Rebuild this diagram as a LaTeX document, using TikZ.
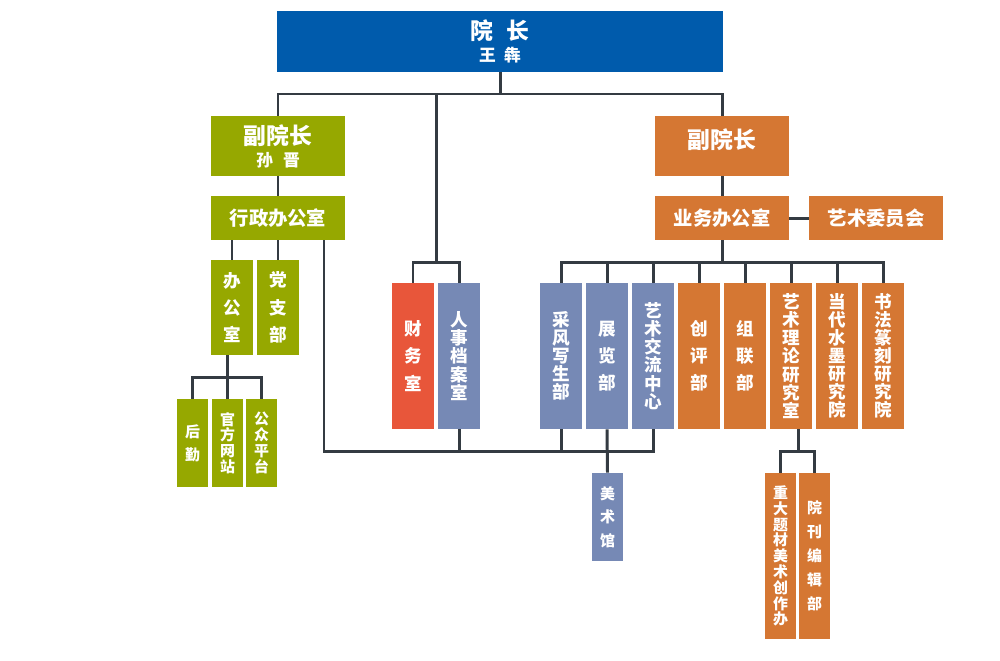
\documentclass[tikz,border=0pt]{standalone}
\usepackage{fontspec}
\setmainfont{Noto Sans CJK SC}
\usepackage{xcolor}
\usepackage{tikz}
\usetikzlibrary{positioning,calc}
\definecolor{deanblue}{HTML}{005BAC}
\definecolor{olive}{HTML}{96A800}
\definecolor{orange}{HTML}{D57733}
\definecolor{redc}{HTML}{E8563A}
\definecolor{slate}{HTML}{7689B5}
\definecolor{linec}{HTML}{343B42}

\begin{document}
\begin{tikzpicture}[
    x=0.02cm, y=-0.02cm,
    unit/.style={inner sep=0, text=white, align=center},
    hbox/.style={unit, minimum width=2.68cm, minimum height=0.88cm, font=\bfseries\fontsize{11}{13}\selectfont},
    vp/.style={unit, minimum width=2.68cm, minimum height=1.2cm, font=\bfseries\fontsize{9.5}{12.5}\selectfont},
    tall/.style={unit, minimum width=0.84cm, minimum height=2.92cm, font=\bfseries\fontsize{10}{#1}\selectfont},
    mid/.style={unit, minimum width=0.84cm, minimum height=1.9cm, font=\bfseries\fontsize{10}{#1}\selectfont},
    small/.style={unit, minimum width=0.62cm, minimum height=1.76cm, font=\bfseries\fontsize{8.5}{#1}\selectfont},
    conn/.style={draw=linec, line width=1.7pt},
]
    \useasboundingbox[fill=white] (0,0) rectangle (1000,660);

    % Dean
    \node[unit, fill=deanblue, minimum width=8.92cm, minimum height=1.22cm, font=\bfseries\fontsize{9.5}{12.5}\selectfont] (dean) at (500,41.5)
        {{\fontsize{13}{15}\selectfont 院\hspace{0.55em}长}\\王\hspace{0.5em}犇};

    % Vice deans and offices
    \node[vp, fill=olive] (vpL) at (278,146) {{\fontsize{13}{15}\selectfont 副院长}\\孙\hspace{0.6em}晋};
    \node[vp, fill=orange, font=\bfseries\fontsize{13}{15}\selectfont] (vpR) at (722,146) {\raisebox{0.28cm}{副院长}};
    \node[hbox, fill=olive] (xzb) at (278,218) {行政办公室};
    \node[hbox, fill=orange] (ywb) at (722,218) {业务办公室};
    \node[hbox, fill=orange] (wyh) at (876,218) {艺术委员会};

    % Admin branch
    \node[mid=15.5pt, fill=olive] (bgs) at (232,307.5) {办\\公\\室};
    \node[mid=15.5pt, fill=olive] (dzb) at (278,307.5) {党\\支\\部};
    \node[small=13pt, fill=olive] (hq) at (192.5,443) {后\\勤};
    \node[small=9pt, fill=olive] (gfwz) at (227.5,443) {官\\方\\网\\站};
    \node[small=9pt, fill=olive] (gzpt) at (261.5,443) {公\\众\\平\\台};

    % Middle
    \node[tall=15.5pt, fill=redc] (cws) at (413,356) {财\\务\\室};
    \node[tall=10.3pt, fill=slate] (rsda) at (459,356) {人\\事\\档\\案\\室};

    % Business branch
    \node[tall=10.3pt, fill=slate] (cfxs) at (561,356) {采\\风\\写\\生\\部};
    \node[tall=15.5pt, fill=slate] (zlb) at (607,356) {展\\览\\部};
    \node[tall=10.3pt, fill=slate] (ysjl) at (653,356) {艺\\术\\交\\流\\中\\心};
    \node[tall=15.5pt, fill=orange] (cpb) at (699,356) {创\\评\\部};
    \node[tall=15.5pt, fill=orange] (zlb2) at (745,356) {组\\联\\部};
    \node[tall=10.3pt, fill=orange] (yslt) at (791,356) {艺\\术\\理\\论\\研\\究\\室};
    \node[tall=10.3pt, fill=orange] (ddsm) at (837,356) {当\\代\\水\\墨\\研\\究\\院};
    \node[tall=10.3pt, fill=orange] (sfzk) at (883,356) {书\\法\\篆\\刻\\研\\究\\院};
    \node[small=13.3pt, fill=slate] (msg) at (607.5,517) {美\\术\\馆};
    \node[small=9pt, fill=orange, minimum height=3.32cm] (zdtc) at (780.5,556) {重\\大\\题\\材\\美\\术\\创\\作\\办};
    \node[small=13.6pt, fill=orange, minimum height=3.32cm] (ykbj) at (814.5,556) {院\\刊\\编\\辑\\部};

    % Connectors
    \coordinate (top) at (500,94);
    \coordinate (cw) at (436,262);
    \coordinate (sb) at (227.5,377);
    \coordinate (bl) at (324,451);
    \coordinate (rb) at (722,262);
    \coordinate (ys) at (798,451);

    \draw[conn] (dean) -- (top);
    \draw[conn] (vpL.north) |- (top) -| (vpR.north);
    \draw[conn] (cw |- top) -- (cw);
    \draw[conn] (cws.north) |- (cw) -| (rsda.north);
    \draw[conn] (vpL) -- (xzb);
    \draw[conn] (xzb) -- (dzb);
    \draw[conn] (bgs.north) -- (bgs.north |- xzb.south);
    \draw[conn] (gfwz.north |- bgs.south) -- (gfwz.north);
    \draw[conn] (hq.north) |- (sb) -| (gzpt.north);
    \draw[conn] (bl |- xzb.south) -- (bl) -| (ysjl.south);
    \draw[conn] (rsda.south) -- (rsda.south |- bl);
    \draw[conn] (cfxs.south) -- (cfxs.south |- bl);
    \draw[conn] (zlb.south) -- (msg.north);
    \draw[conn] (vpR) -- (ywb);
    \draw[conn] (ywb) -- (wyh);
    \draw[conn] (ywb) -- (rb);
    \draw[conn] (cfxs.north) |- (rb) -| (sfzk.north);
    \foreach \n in {zlb,ysjl,cpb,zlb2,yslt,ddsm}
        \draw[conn] (\n.north) -- (\n.north |- rb);
    \draw[conn] (ys |- yslt.south) -- (ys);
    \draw[conn] (zdtc.north) |- (ys) -| (ykbj.north);
\end{tikzpicture}
\end{document}
